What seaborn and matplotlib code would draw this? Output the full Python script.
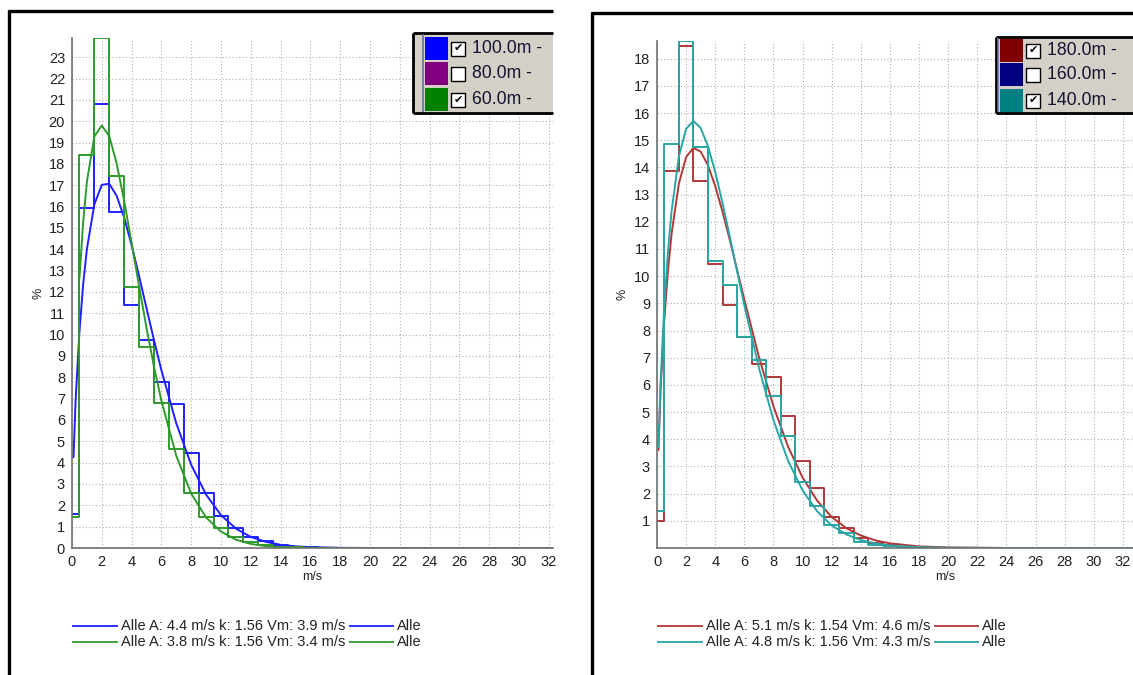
import numpy as np
import pandas as pd
import matplotlib
matplotlib.use("Agg")
import matplotlib.pyplot as plt
import seaborn as sns
from matplotlib.lines import Line2D
from matplotlib.patches import Rectangle
from matplotlib.ticker import MultipleLocator

# ---------------- data ----------------
bin_centers = [0, 1, 2, 3, 4, 5, 6, 7, 8, 9, 10, 11, 12, 13, 14, 15, 16, 17, 18]
bin_edges = [0, 0.5, 1.5, 2.5, 3.5, 4.5, 5.5, 6.5, 7.5, 8.5, 9.5, 10.5,
             11.5, 12.5, 13.5, 14.5, 15.5, 16.5, 17.5, 18.5]

# left panel: 100 m (blue) and 60 m (green) frequency, %
hist_100m = [1.6, 15.95, 20.8, 15.75, 11.38, 9.77, 7.79, 6.74, 4.43, 2.6, 1.51,
             0.95, 0.52, 0.33, 0.15, 0.07, 0.03, 0.01, 0.0]
hist_60m = [1.47, 18.44, 23.9, 17.44, 12.24, 9.43, 6.78, 4.62, 2.6, 1.47, 0.95,
            0.53, 0.28, 0.14, 0.06, 0.03, 0.01, 0.0, 0.0]
# right panel: 180 m (red) and 140 m (teal)
hist_180m = [1.0, 13.85, 18.46, 13.49, 10.43, 8.93, 7.75, 6.78, 6.3, 4.85, 3.19,
             2.19, 1.15, 0.72, 0.37, 0.2, 0.1, 0.05, 0.02]
hist_140m = [1.36, 14.85, 18.65, 14.74, 10.56, 9.69, 7.77, 6.91, 5.59, 4.13, 2.44,
             1.56, 0.85, 0.54, 0.23, 0.12, 0.06, 0.03, 0.01]

# fitted distribution curves
curve_speed = [0.1, 0.25, 0.5, 0.75, 1, 1.5, 2, 2.5, 3, 3.5, 4, 4.5, 5, 5.5, 6,
               7, 8, 9, 10, 11, 12, 13, 14, 15, 16, 18, 20, 24, 32.7]
curve_100m = [4.25, 7.04, 10.14, 12.36, 14.01, 16.10, 17.02, 17.07, 16.50, 15.49,
              14.20, 12.75, 11.24, 9.75, 8.33, 5.84, 3.90, 2.50, 1.54, 0.91,
              0.52, 0.29, 0.15, 0.08, 0.04, 0.01, 0.0, 0.0, 0.0]
curve_60m = [np.nan, np.nan, 12.64, 15.28, 17.16, 19.29, 19.80, 19.30, 18.01, 16.27,
             14.30, 12.28, 10.32, 8.51, 6.90, 4.32, 2.55, 1.43, 0.77, 0.39,
             0.19, 0.09, 0.04, 0.02, 0.01, 0.0, 0.0, 0.0, 0.0]
curve_180m = [3.60, 5.87, 8.38, 10.18, 11.55, 13.40, 14.38, 14.72, 14.58, 14.08,
              13.31, 12.37, 11.33, 10.23, 9.13, 7.03, 5.21, 3.73, 2.59, 1.74,
              1.14, 0.73, 0.46, 0.28, 0.17, 0.06, 0.02, 0.0, 0.0]
curve_140m = [3.71, 6.15, 8.89, 10.87, 12.38, 14.40, 15.42, 15.71, 15.45, 14.78,
              13.83, 12.69, 11.45, 10.18, 8.93, 6.63, 4.70, 3.21, 2.12, 1.35,
              0.83, 0.50, 0.29, 0.17, 0.09, 0.03, 0.01, 0.0, 0.0]

x_ticks = list(range(0, 33, 2))
y_ticks_left = list(range(0, 24))
y_ticks_right = list(range(1, 19))

left_heights = ["100.0m -", "80.0m -", "60.0m -"]
left_checked = [True, False, True]
left_swatch = ["#0000ff", "#800080", "#008000"]
right_heights = ["180.0m -", "160.0m -", "140.0m -"]
right_checked = [True, False, True]
right_swatch = ["#800000", "#000080", "#008080"]

left_fit_labels = ["Alle A: 4.4 m/s k: 1.56 Vm: 3.9 m/s",
                   "Alle A: 3.8 m/s k: 1.56 Vm: 3.4 m/s"]
right_fit_labels = ["Alle A: 5.1 m/s k: 1.54 Vm: 4.6 m/s",
                    "Alle A: 4.8 m/s k: 1.56 Vm: 4.3 m/s"]
series_tag = "Alle"

# ---------------- style ----------------
C_BLUE = "#1f1fff"
C_GREEN = "#2e9a2e"
C_RED = "#b03838"
C_TEAL = "#2aa5a5"

sns.set_style("white")
plt.rcParams["font.family"] = ["Liberation Sans", "DejaVu Sans"]

W, H = 1133, 675
fig = plt.figure(figsize=(W / 100, H / 100), dpi=100)


def fx(px):
    return px / W


def fy(py):
    return 1 - py / H


axL = fig.add_axes([fx(72), fy(548), (553 - 72) / W, (548 - 38) / H])
axR = fig.add_axes([fx(657), fy(548), (1133 - 657) / W, (548 - 41) / H])


def draw_series(ax, hist, curve, color):
    sns.histplot(x=bin_centers, weights=hist, bins=bin_edges, fill=False,
                 color=color, linewidth=1.4, ax=ax, element="step", alpha=1)
    d = pd.DataFrame({"v": curve_speed, "p": curve}).dropna()
    sns.lineplot(data=d, x="v", y="p", color=color, linewidth=1.4, ax=ax,
                 estimator=None, sort=False)


def style_axis(ax, yticks, ylim, xlim, xlab_x, ylab_x):
    ax.set_xlim(0, xlim)
    ax.set_ylim(0, ylim)
    ax.set_xticks(x_ticks)
    ax.set_yticks(yticks)
    ax.xaxis.set_minor_locator(MultipleLocator(0.5))
    ax.yaxis.set_minor_locator(MultipleLocator(0.2))
    ax.grid(True, which="major", linestyle=(0, (1, 2)), color="#b0b0b0",
            linewidth=0.8)
    ax.set_axisbelow(True)
    for s in ["top", "right"]:
        ax.spines[s].set_visible(False)
    for s in ["left", "bottom"]:
        ax.spines[s].set_color("#707070")
        ax.spines[s].set_linewidth(1.2)
    ax.tick_params(which="major", length=3, color="#707070", labelsize=10.5,
                   labelcolor="#222222", pad=2)
    ax.tick_params(which="minor", length=2, color="#808080", width=0.8)
    ax.set_xlabel("m/s", fontsize=9, color="#222222")
    ax.set_ylabel("%", fontsize=9, color="#222222")
    ax.xaxis.set_label_coords(xlab_x, -0.045)
    ax.yaxis.set_label_coords(ylab_x, 0.5)


draw_series(axL, hist_100m, curve_100m, C_BLUE)
draw_series(axL, hist_60m, curve_60m, C_GREEN)
style_axis(axL, y_ticks_left, 23.9, (553 - 72) / 14.9, 0.50, -0.058)

draw_series(axR, hist_180m, curve_180m, C_RED)
draw_series(axR, hist_140m, curve_140m, C_TEAL)
style_axis(axR, y_ticks_right, 18.65, (1133 - 657) / 14.56, 0.605, -0.059)

# ---------------- panel frames ----------------
def fline(x0, y0, x1, y1, color="black", lw=2.4):
    fig.add_artist(Line2D([fx(x0), fx(x1)], [fy(y0), fy(y1)], color=color,
                          lw=lw, transform=fig.transFigure, solid_capstyle="butt"))


fline(8.5, 10, 8.5, 675)
fline(7.5, 10.5, 553, 10.5)
fline(592, 12, 592, 675)
fline(591, 12.5, 1133, 12.5)


# ---------------- top-right legend boxes ----------------
def legend_box(x0, x1, y0, y1, inner_x, sw_x, cb_x, tx_x, row_tops, labels,
               checked, swatches):
    fig.add_artist(Rectangle((fx(x0), fy(y1)), (x1 - x0) / W, (y1 - y0) / H,
                             transform=fig.transFigure, facecolor="#d4d0c8",
                             edgecolor="none"))
    fline(x0, y0, x1, y0, lw=2)
    fline(x0, y1, x1, y1, lw=2)
    fline(x0, y0, x0, y1, lw=2)
    fline(inner_x, y0 + 1, inner_x, y1 - 1, color="#6070a8", lw=1.2)
    for top, lab, chk, sc in zip(row_tops, labels, checked, swatches):
        fig.add_artist(Rectangle((fx(sw_x), fy(top + 23)), 23 / W, 23 / H,
                                 transform=fig.transFigure, facecolor=sc,
                                 edgecolor="none"))
        cy = top + 11.5
        fig.add_artist(Rectangle((fx(cb_x), fy(cy + 7)), 14 / W, 14 / H,
                                 transform=fig.transFigure, facecolor="white",
                                 edgecolor="black", lw=1.0))
        if chk:
            fig.text(fx(cb_x + 7), fy(cy), "\u2714", ha="center", va="center",
                     fontsize=8, color="black", family=["DejaVu Sans"])
        fig.text(fx(tx_x), fy(cy), lab, ha="left", va="center", fontsize=12.7,
                 color="#141430")


legend_box(413, 553, 33, 113, 423, 425, 451, 472, [37, 62, 88],
           left_heights, left_checked, left_swatch)
legend_box(996, 1140, 37, 113, 998, 1000, 1026, 1047, [39, 63, 89],
           right_heights, right_checked, right_swatch)

# ---------------- bottom fit legends ----------------
fig.canvas.draw()
renderer = fig.canvas.get_renderer()


def fit_legend(x_line, rows_y, labels, colors):
    for y, lab, c in zip(rows_y, labels, colors):
        fline(x_line, y, x_line + 46, y, color=c, lw=1.3)
        t = fig.text(fx(x_line + 49), fy(y), lab, ha="left", va="center",
                     fontsize=10.5, color="#222222")
        bb = t.get_window_extent(renderer=renderer)
        xe = bb.x1 + 4
        fline(xe, y, xe + 45, y, color=c, lw=1.3)
        fig.text(fx(xe + 48), fy(y), series_tag, ha="left", va="center",
                 fontsize=10.5, color="#222222")


fit_legend(72, [626, 642], left_fit_labels, [C_BLUE, C_GREEN])
fit_legend(657, [626, 642], right_fit_labels, [C_RED, C_TEAL])

fig.savefig("out.png", dpi=100, facecolor="white")
